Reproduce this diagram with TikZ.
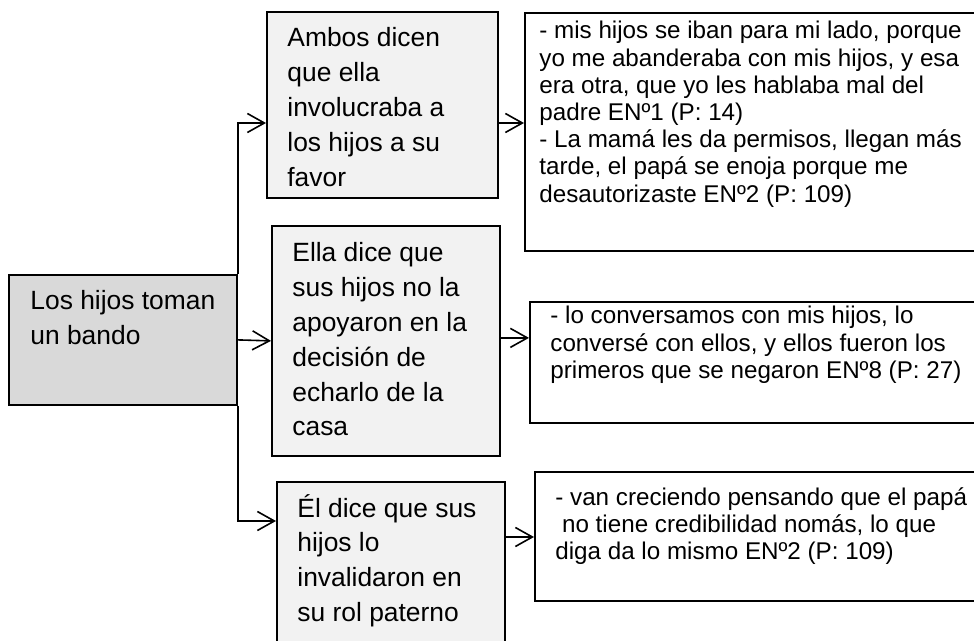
\documentclass[tikz,border=0pt]{standalone}
\usepackage{fontspec}
\setmainfont{Liberation Sans}
\usetikzlibrary{arrows.meta}

\newcommand{\boxfont}{\fontsize{13.2}{17.4}\selectfont}
\newcommand{\quotefont}{\fontsize{12.1}{13.6}\selectfont}
\newcommand{\stack}[1]{\begin{tabular}[t]{@{}l@{}}#1\end{tabular}}

\begin{document}
\begin{tikzpicture}[x=0.5pt,y=-0.5pt,
        box/.style={draw,line width=0.9pt,inner sep=0pt,anchor=north west},
        txt/.style={inner sep=0pt,anchor=base west,font=\boxfont},
        qtxt/.style={inner sep=0pt,anchor=base west,font=\quotefont},
        link/.style={line width=0.8pt,-{Straight Barb[length=8.5pt,width=9.5pt,line width=0.8pt]}}]
        \useasboundingbox (0,0) rectangle (974,641);

        \node[box,fill=gray!30,minimum width=114pt,minimum height=65pt] (root) at (8,274) {};
        \node[box,fill=gray!10,minimum width=115.5pt,minimum height=93pt] (boxA) at (266,11) {};
        \node[box,fill=gray!10,minimum width=114pt,minimum height=115pt] (boxB) at (271,225) {};
        \node[box,fill=gray!10,minimum width=114pt,minimum height=100pt] (boxC) at (276,481) {};
        \node[box,fill=white,minimum width=230pt,minimum height=119pt] (q1) at (524,12) {};
        \node[box,fill=white,minimum width=227.5pt,minimum height=60.5pt] (q2) at (529,301) {};
        \node[box,fill=white,minimum width=225pt,minimum height=64.5pt] (q3) at (534,471) {};

        \node[txt] (troot) at (30,310) {\stack{Los hijos toman\\un bando}};
        \node[txt] (tA) at (287,47) {\stack{Ambos dicen\\que ella\\involucraba a\\los hijos a su\\favor}};
        \node[txt] (tB) at (292,262) {\stack{Ella dice que\\sus hijos no la\\apoyaron en la\\decisión de\\echarlo de la\\casa}};
        \node[txt] (tC) at (297,517) {\stack{Él dice que sus\\hijos lo\\invalidaron en\\su rol paterno}};
        \node[qtxt] (tq1) at (539,39) {\stack{- mis hijos se iban para mi lado, porque\\yo me abanderaba con mis hijos, y esa\\era otra, que yo les hablaba mal del\\padre ENº1 (P: 14)\\- La mamá les da permisos, llegan más\\tarde, el papá se enoja porque me\\desautorizaste ENº2 (P: 109)}};
        \node[qtxt] (tq2) at (550,324) {\stack{- lo conversamos con mis hijos, lo\\conversé con ellos, y ellos fueron los\\primeros que se negaron ENº8 (P: 27)}};
        \node[qtxt] (tq3) at (555,505) {\stack{- van creciendo pensando que el papá\\\ no tiene credibilidad nomás, lo que\\diga da lo mismo ENº2 (P: 109)}};

        \draw[link] (root.north east) |- ([yshift=-56pt]boxA.north west);
        \draw[link] (root.east) -- (boxB.west);
        \draw[link] (root.south east) |- ([yshift=-20pt]boxC.north west);

        \draw[link] ([yshift=-56pt]boxA.north east) -- ([yshift=-56pt]boxA.north east -| q1.west);
        \draw[link] ([yshift=1.5pt]boxB.east) -- ([yshift=1.5pt]boxB.east -| q2.west);
        \draw[link] ([yshift=-28pt]boxC.north east) -- ([yshift=-28pt]boxC.north east -| q3.west);
\end{tikzpicture}
\end{document}
